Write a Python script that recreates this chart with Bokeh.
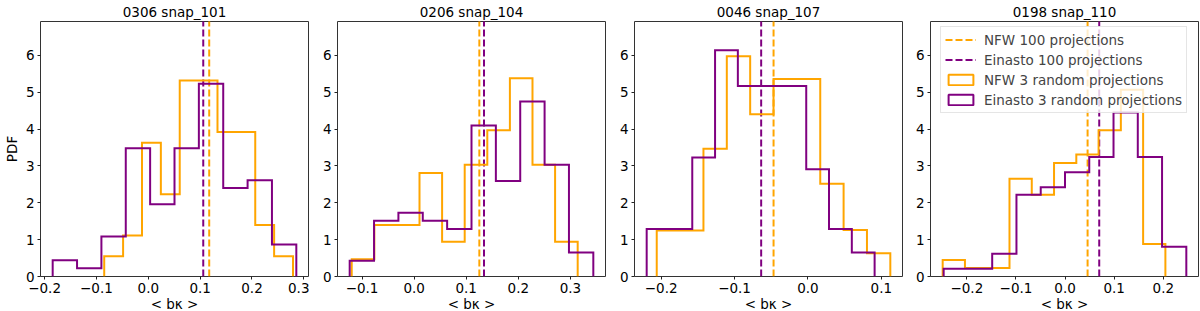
import numpy as np
from bokeh.plotting import figure
from bokeh.layouts import row
from bokeh.models import (Range1d, Legend, LegendItem,
                          FixedTicker, CustomJSTickFormatter)
from bokeh.embed import file_html
from bokeh.resources import INLINE

# ---------------- data ----------------
titles = ["0306 snap_101", "0206 snap_104", "0046 snap_107", "0198 snap_110"]
x_label = "< b\u03ba >"
y_label = "PDF"

# NFW, 3 random projections: histogram range (first/last bin edge) and densities (10 bins)
nfw_lo = [-0.0850, -0.1198, -0.2060, -0.2492]
nfw_hi = [0.2791, 0.3140, 0.1123, 0.2042]
nfw_pdf = [
    [0.55, 1.11, 3.63, 2.23, 5.32, 5.32, 3.92, 3.92, 1.40, 0.55],
    [0.47, 1.40, 1.40, 2.81, 0.94, 3.03, 3.97, 5.38, 3.03, 0.94],
    [1.25, 1.25, 3.47, 5.98, 4.40, 5.36, 5.36, 2.52, 1.26, 0.63],
    [0.45, 0.23, 0.23, 2.65, 2.22, 3.08, 3.31, 3.97, 5.07, 0.88],
]

# Einasto, 3 random projections
ein_lo = [-0.1844, -0.1237, -0.2197, -0.2472]
ein_hi = [0.2855, 0.3440, 0.0909, 0.2468]
ein_pdf = [
    [0.443, 0.226, 1.086, 3.48, 1.96, 3.48, 5.23, 2.40, 2.61, 0.87],
    [0.43, 1.51, 1.73, 1.51, 1.29, 4.10, 2.59, 4.75, 3.03, 0.65],
    [1.29, 1.29, 3.23, 6.14, 5.17, 5.17, 5.17, 2.91, 1.29, 0.65],
    [0.21, 0.21, 0.62, 2.22, 2.42, 2.83, 3.24, 4.45, 3.24, 0.81],
]

# means over 100 projections
nfw_mean = [0.1175, 0.1252, -0.0468, 0.0458]
ein_mean = [0.1060, 0.1342, -0.0637, 0.0695]

x_ticks = [
    [-0.2, -0.1, 0.0, 0.1, 0.2, 0.3],
    [-0.1, 0.0, 0.1, 0.2, 0.3],
    [-0.2, -0.1, 0.0, 0.1],
    [-0.2, -0.1, 0.0, 0.1, 0.2],
]
y_ticks = [0, 1, 2, 3, 4, 5, 6]
y_max = 6.92

legend_labels = ["NFW 100 projections", "Einasto 100 projections",
                 "NFW 3 random projections", "Einasto 3 random projections"]

ORANGE = "#FFA500"
PURPLE = "#800080"
FONT = "DejaVu Sans"
FS = "13.5px"

FW, FH = 268, 255
borders = [(35, 1), (28, 1), (28, 1), (27, 7)]


def edges(lo, hi, n):
    return np.linspace(lo, hi, n + 1)


def step_xy(lo, hi, h):
    e = edges(lo, hi, len(h))
    xs = np.repeat(e, 2)
    ys = np.concatenate([[0.0], np.repeat(h, 2), [0.0]])
    return xs, ys


fmt = CustomJSTickFormatter(code="""
    const s = Math.abs(tick).toFixed(1);
    return (tick < -1e-9 ? '\\u2212' : '') + s;
""")
yfmt = CustomJSTickFormatter(code="return tick.toFixed(0);")

figs = []
for i in range(4):
    lo = min(nfw_lo[i], ein_lo[i])
    hi = max(nfw_hi[i], ein_hi[i])
    pad = 0.05 * (hi - lo)
    bl, br = borders[i]
    p = figure(frame_width=FW, frame_height=FH,
               x_range=Range1d(lo - pad, hi + pad), y_range=Range1d(0, y_max),
               output_backend="svg", toolbar_location=None,
               min_border_left=bl, min_border_right=br,
               min_border_top=19, min_border_bottom=30)
    p.grid.visible = False
    p.outline_line_color = "#333333"
    p.outline_line_width = 1
    p.background_fill_color = "white"
    p.border_fill_color = "white"

    p.title.text = titles[i]
    p.title.align = "center"
    p.title.text_font = FONT
    p.title.text_font_size = FS
    p.title.text_font_style = "normal"
    p.title.text_color = "black"
    p.title.standoff = 3

    for ax in (p.xaxis[0], p.yaxis[0]):
        ax.axis_line_color = None
        ax.major_tick_in = 0
        ax.major_tick_out = 3
        ax.minor_tick_line_color = None
        ax.major_tick_line_color = "#222222"
        ax.major_label_text_font = FONT
        ax.major_label_text_font_size = FS
        ax.major_label_text_color = "black"
        ax.major_label_standoff = 3
        ax.axis_label_text_font = FONT
        ax.axis_label_text_font_size = FS
        ax.axis_label_text_font_style = "normal"
        ax.axis_label_text_color = "black"
    p.xaxis.ticker = FixedTicker(ticks=x_ticks[i])
    p.xaxis.formatter = fmt
    p.xaxis.axis_label = x_label
    p.xaxis.axis_label_standoff = 0
    p.yaxis.ticker = FixedTicker(ticks=y_ticks)
    p.yaxis.formatter = yfmt
    if i == 0:
        p.yaxis.axis_label = y_label
        p.yaxis.axis_label_standoff = 3

    # vertical mean lines (100 projections)
    r1 = p.ray(x=[nfw_mean[i]], y=[0], length=0, angle=np.pi / 2,
               line_color=ORANGE, line_width=2, line_dash="7 3")
    r2 = p.ray(x=[ein_mean[i]], y=[0], length=0, angle=np.pi / 2,
               line_color=PURPLE, line_width=2, line_dash="7 3")

    # step histograms (3 random projections)
    xs, ys = step_xy(nfw_lo[i], nfw_hi[i], nfw_pdf[i])
    p.line(xs, ys, line_color=ORANGE, line_width=2, line_join="miter")
    xs, ys = step_xy(ein_lo[i], ein_hi[i], ein_pdf[i])
    p.line(xs, ys, line_color=PURPLE, line_width=2, line_join="miter")

    if i == 3:
        e_n = edges(nfw_lo[i], nfw_hi[i], len(nfw_pdf[i]))
        e_e = edges(ein_lo[i], ein_hi[i], len(ein_pdf[i]))
        r3 = p.quad(left=e_n[:-1], right=e_n[1:], top=nfw_pdf[i], bottom=0,
                    fill_alpha=0, line_color=ORANGE, line_width=2, visible=False)
        r4 = p.quad(left=e_e[:-1], right=e_e[1:], top=ein_pdf[i], bottom=0,
                    fill_alpha=0, line_color=PURPLE, line_width=2, visible=False)
        items = [LegendItem(label=legend_labels[k], renderers=[r])
                 for k, r in enumerate([r1, r2, r3, r4])]
        leg = Legend(items=items, location=(10, 163), margin=0, padding=4,
                     spacing=3, label_height=17, glyph_height=13, glyph_width=31,
                     label_standoff=8, label_text_font=FONT, label_text_font_size=FS,
                     border_line_color="#cccccc", border_line_width=1,
                     background_fill_color="white", background_fill_alpha=0.8,
                     inactive_fill_alpha=0)
        p.add_layout(leg)
    figs.append(p)

layout = row(*figs, spacing=0)
open("out.html", "w").write(file_html(layout, INLINE))
